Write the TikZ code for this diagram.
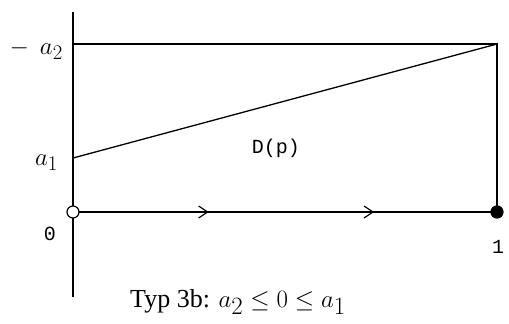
\documentclass[tikz,border=0pt]{standalone}
\usepackage{fontspec}
\setmainfont{Liberation Serif}
\setmonofont{Liberation Mono}
\usetikzlibrary{arrows.meta,decorations.markings}
\begin{document}
\begin{tikzpicture}[x=1pt,y=-1pt,
  ln/.style={line width=1.6pt},
  lbl/.style={font=\fontsize{30}{34}\selectfont,inner sep=0pt},
  mono/.style={font=\ttfamily\fontsize{20}{22}\selectfont,inner sep=0pt},
  dot/.style={circle,draw,line width=1.2pt,minimum size=12pt,inner sep=0pt}]
\useasboundingbox (0,0) rectangle (509,324);
\coordinate (top) at (73,12);
\coordinate (bot) at (73,297);
\coordinate (A2) at (73,44);
\coordinate (A1) at (73,158);
\coordinate (TR) at (497,44);
\coordinate (O) at (73,212);
\coordinate (E) at (497,212);
\draw[ln] (top) -- (bot);
\draw[ln] (A2) -- (TR) -- (E);
\draw[line width=1.3pt] (A1) -- (TR);
\draw[ln,decoration={markings,
   mark=at position 0.32 with {\arrow{Straight Barb[length=9pt,width=12pt,line width=1.2pt]}},
   mark=at position 0.71 with {\arrow{Straight Barb[length=9pt,width=12pt,line width=1.2pt]}}},
   postaction={decorate}] (O) -- (E);
\node[dot,fill=white] (o) at (O) {};
\node[dot,fill=black] (e) at (E) {};
\node[lbl,anchor=east] (la2) at (63,50) {$-\;\,a_2$};
\node[lbl,anchor=east] (la1) at (58,163) {$a_1$};
\node[mono] (z) at (50,234) {0};
\node[mono] (one) at (498,247) {1};
\node[mono] (dp) at (276,148) {D(p)};
\node[font=\fontsize{26}{30}\selectfont,anchor=west,inner sep=0pt] (cap) at (130,302) {Typ 3b: {\fontsize{34}{37}\selectfont$a_2 \le 0 \le a_1$}};
\end{tikzpicture}
\end{document}
